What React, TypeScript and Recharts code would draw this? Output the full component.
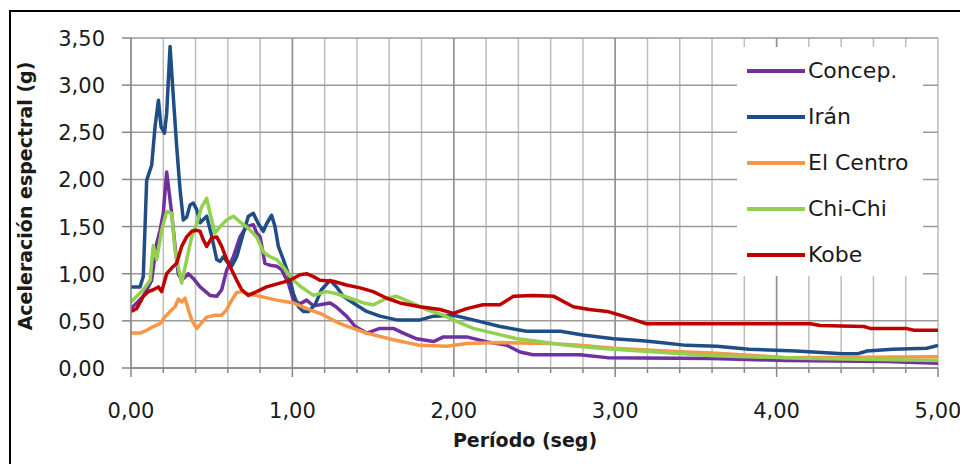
import React from 'react';
import { LineChart, Line, XAxis, YAxis, CartesianGrid, ReferenceLine } from 'recharts';

// ---- Data ----
const concepT = [0, 0.076, 0.128, 0.159, 0.18, 0.2, 0.221, 0.252, 0.273, 0.293, 0.314, 0.355, 0.386, 0.428, 0.49, 0.531, 0.562, 0.593, 0.634, 0.675, 0.717, 0.758, 0.779, 0.8, 0.83, 0.861, 0.903, 0.934, 0.975, 1.006, 1.047, 1.088, 1.13, 1.17, 1.233, 1.27, 1.335, 1.39, 1.46, 1.543, 1.625, 1.687, 1.77, 1.874, 1.936, 2.08, 2.2, 2.33, 2.41, 2.49, 2.78, 2.95, 3.6, 4.06, 4.68, 5.0];
const concepA = [0.63, 0.76, 0.93, 1.32, 1.46, 1.64, 2.08, 1.64, 1.29, 1.0, 0.93, 1.0, 0.95, 0.86, 0.77, 0.76, 0.83, 1.04, 1.18, 1.39, 1.5, 1.52, 1.43, 1.39, 1.11, 1.09, 1.08, 1.04, 0.9, 0.72, 0.68, 0.72, 0.66, 0.67, 0.69, 0.65, 0.55, 0.44, 0.37, 0.42, 0.42, 0.37, 0.31, 0.28, 0.33, 0.33, 0.28, 0.24, 0.17, 0.14, 0.14, 0.11, 0.1, 0.08, 0.07, 0.05];

const iranT = [0, 0.056, 0.076, 0.087, 0.097, 0.128, 0.149, 0.17, 0.186, 0.207, 0.221, 0.242, 0.262, 0.283, 0.304, 0.324, 0.345, 0.366, 0.386, 0.407, 0.428, 0.469, 0.5, 0.531, 0.552, 0.572, 0.603, 0.624, 0.655, 0.696, 0.727, 0.758, 0.789, 0.82, 0.84, 0.871, 0.892, 0.913, 0.944, 0.975, 1.006, 1.037, 1.068, 1.099, 1.14, 1.18, 1.233, 1.274, 1.315, 1.377, 1.46, 1.543, 1.646, 1.79, 1.874, 1.997, 2.12, 2.286, 2.45, 2.66, 2.8, 2.99, 3.17, 3.28, 3.44, 3.63, 3.83, 4.12, 4.41, 4.5, 4.56, 4.72, 4.93, 5.0];
const iranA = [0.86, 0.86, 0.97, 1.5, 1.99, 2.15, 2.56, 2.84, 2.56, 2.49, 2.7, 3.41, 2.88, 2.35, 1.89, 1.57, 1.6, 1.73, 1.75, 1.68, 1.54, 1.61, 1.4, 1.15, 1.13, 1.18, 1.11, 1.08, 1.18, 1.43, 1.61, 1.64, 1.53, 1.45, 1.53, 1.62, 1.5, 1.29, 1.15, 1.0, 0.79, 0.65, 0.6, 0.6, 0.67, 0.83, 0.93, 0.86, 0.76, 0.69, 0.6, 0.55, 0.51, 0.51, 0.55, 0.56, 0.51, 0.44, 0.39, 0.39, 0.35, 0.31, 0.29, 0.27, 0.24, 0.23, 0.2, 0.18, 0.15, 0.15, 0.18, 0.2, 0.21, 0.24];

const centroT = [0, 0.056, 0.097, 0.138, 0.18, 0.21, 0.242, 0.273, 0.293, 0.314, 0.335, 0.355, 0.376, 0.407, 0.428, 0.469, 0.52, 0.562, 0.593, 0.624, 0.655, 0.686, 0.717, 0.8, 0.903, 1.006, 1.088, 1.17, 1.295, 1.46, 1.625, 1.79, 1.956, 2.08, 2.286, 2.6, 2.78, 2.99, 3.19, 3.44, 3.6, 4.06, 5.0];
const centroA = [0.37, 0.37, 0.4, 0.44, 0.47, 0.54, 0.6, 0.65, 0.73, 0.7, 0.74, 0.62, 0.51, 0.42, 0.46, 0.54, 0.56, 0.56, 0.62, 0.72, 0.8, 0.81, 0.79, 0.76, 0.72, 0.69, 0.63, 0.58, 0.47, 0.37, 0.3, 0.24, 0.23, 0.26, 0.27, 0.26, 0.24, 0.21, 0.19, 0.17, 0.16, 0.11, 0.12];

const chichiT = [0, 0.076, 0.118, 0.138, 0.159, 0.19, 0.221, 0.252, 0.273, 0.293, 0.314, 0.345, 0.376, 0.407, 0.438, 0.469, 0.49, 0.52, 0.552, 0.593, 0.634, 0.675, 0.727, 0.779, 0.82, 0.861, 0.903, 0.944, 0.995, 1.047, 1.13, 1.21, 1.27, 1.357, 1.44, 1.5, 1.585, 1.646, 1.73, 1.83, 1.935, 1.997, 2.12, 2.245, 2.39, 2.53, 2.7, 2.905, 2.99, 3.61, 4.23, 5.0];
const chichiA = [0.7, 0.83, 0.93, 1.3, 1.15, 1.46, 1.66, 1.64, 1.25, 1.07, 0.9, 1.15, 1.39, 1.53, 1.71, 1.8, 1.64, 1.43, 1.5, 1.57, 1.61, 1.55, 1.48, 1.39, 1.23, 1.18, 1.15, 1.07, 0.95, 0.87, 0.77, 0.81, 0.79, 0.74, 0.69, 0.67, 0.74, 0.76, 0.7, 0.62, 0.56, 0.51, 0.42, 0.37, 0.31, 0.28, 0.24, 0.21, 0.2, 0.13, 0.1, 0.08];

const kobeT = [0, 0.035, 0.076, 0.107, 0.138, 0.17, 0.19, 0.221, 0.252, 0.283, 0.314, 0.345, 0.376, 0.407, 0.428, 0.448, 0.469, 0.5, 0.531, 0.562, 0.593, 0.624, 0.655, 0.686, 0.727, 0.779, 0.84, 0.923, 0.985, 1.047, 1.088, 1.13, 1.17, 1.253, 1.335, 1.42, 1.5, 1.585, 1.667, 1.79, 1.915, 1.997, 2.08, 2.18, 2.286, 2.37, 2.49, 2.62, 2.74, 2.84, 2.95, 3.05, 3.19, 4.21, 4.27, 4.54, 4.58, 4.8, 4.85, 5.0];
const kobeA = [0.6, 0.63, 0.76, 0.81, 0.83, 0.86, 0.81, 1.0, 1.06, 1.11, 1.29, 1.39, 1.45, 1.46, 1.45, 1.36, 1.29, 1.38, 1.39, 1.29, 1.15, 1.04, 0.93, 0.83, 0.77, 0.81, 0.86, 0.9, 0.93, 0.99, 1.0, 0.97, 0.93, 0.92, 0.88, 0.85, 0.81, 0.74, 0.69, 0.65, 0.62, 0.58, 0.63, 0.67, 0.67, 0.76, 0.77, 0.76, 0.65, 0.62, 0.6, 0.55, 0.47, 0.47, 0.45, 0.44, 0.42, 0.42, 0.4, 0.4];

const seriesNames = ['Concep.', 'Irán', 'El Centro', 'Chi-Chi', 'Kobe'];
const seriesColors = ['#7030A0', '#1F4E86', '#F79646', '#92D050', '#C00000'];

const xTicks = [0, 0.2, 0.4, 0.6, 0.8, 1, 1.2, 1.4, 1.6, 1.8, 2, 2.2, 2.4, 2.6, 2.8, 3, 3.2, 3.4, 3.6, 3.8, 4, 4.2, 4.4, 4.6, 4.8, 5];
const xMajor = [1, 2, 3, 4];
const yTicks = [0, 0.5, 1, 1.5, 2, 2.5, 3, 3.5];

const xTitle = 'Período (seg)';
const yTitle = 'Aceleración espectral (g)';

const toPts = (t: number[], a: number[]) => t.map((v, i) => ({ t: v, a: a[i] }));
const seriesData = [
  toPts(concepT, concepA),
  toPts(iranT, iranA),
  toPts(centroT, centroA),
  toPts(chichiT, chichiA),
  toPts(kobeT, kobeA),
];

const FONT = '"DejaVu Sans", sans-serif';
const fmt = (v: number) => v.toFixed(2).replace('.', ',');

const XTick = (props: any) => {
  const { x, y, payload } = props;
  const v = payload.value;
  const major = Math.abs(v - Math.round(v)) < 1e-6;
  return (
    <g>
      <line x1={x} x2={x} y1={y} y2={y + (major ? 9 : 5)} stroke="#868686" strokeWidth={1.5} />
      {major && (
        <text x={x} y={y + 50} textAnchor="middle" fontFamily={FONT} fontSize={21} fill="#1a1a1a">
          {fmt(v)}
        </text>
      )}
    </g>
  );
};

const YTick = (props: any) => {
  const { x, y, payload } = props;
  return (
    <g>
      <line x1={x - 9} x2={x} y1={y} y2={y} stroke="#868686" strokeWidth={1.5} />
      <text x={x - 26} y={y + 8} textAnchor="end" fontFamily={FONT} fontSize={21} fill="#1a1a1a">
        {fmt(payload.value)}
      </text>
    </g>
  );
};

const LegendBox = () => (
  <div style={{ position: 'absolute', left: 729, top: 39, width: 186, height: 229, background: '#fff' }}>
    {seriesNames.map((n, i) => (
      <div key={n} style={{ position: 'absolute', left: 0, top: 24 + i * 46 - 14, height: 28, display: 'flex', alignItems: 'center', whiteSpace: 'nowrap' }}>
        <div style={{ marginLeft: 10, width: 58, height: 3.5, background: seriesColors[i] }} />
        <span style={{ marginLeft: 3, fontFamily: FONT, fontSize: 22, color: '#1a1a1a', lineHeight: '28px' }}>{n}</span>
      </div>
    ))}
  </div>
);

export default function App() {
  return (
    <div style={{ position: 'relative', width: 960, height: 456, overflow: 'hidden', background: '#fff' }}>
      <LineChart width={960} height={456} margin={{ top: 30, right: 30, bottom: 0, left: 0 }}>
        <CartesianGrid horizontal={false} vertical stroke="#bdbdbd" strokeWidth={1.5} />
        <CartesianGrid horizontal vertical={false} stroke="#9a9a9a" strokeWidth={1.5} />
        {xMajor.map((v) => (
          <ReferenceLine key={v} x={v} stroke="#8f8f8f" strokeWidth={1.5} ifOverflow="hidden" />
        ))}
        <XAxis
          type="number"
          dataKey="t"
          domain={[0, 5]}
          ticks={xTicks}
          interval={0}
          height={96}
          stroke="#868686"
          strokeWidth={1.5}
          tickLine={false}
          tickSize={0}
          tickMargin={0}
          tick={<XTick />}
          allowDataOverflow
        />
        <YAxis
          type="number"
          domain={[0, 3.5]}
          ticks={yTicks}
          interval={0}
          width={123}
          stroke="#868686"
          strokeWidth={1.5}
          tickLine={false}
          tickSize={0}
          tickMargin={0}
          tick={<YTick />}
          allowDataOverflow
        />
        {seriesData.map((d, i) => (
          <Line
            key={seriesNames[i]}
            data={d}
            dataKey="a"
            name={seriesNames[i]}
            type="linear"
            stroke={seriesColors[i]}
            strokeWidth={3.5}
            strokeLinejoin="round"
            dot={false}
            activeDot={false}
            isAnimationActive={false}
          />
        ))}
        <text x={17} y={188} transform="rotate(-90 17 188)" textAnchor="middle" dominantBaseline="central" fontFamily={FONT} fontSize={19} fontWeight="bold" fill="#1a1a1a">
          {yTitle}
        </text>
        <text x={517} y={432} textAnchor="middle" dominantBaseline="central" fontFamily={FONT} fontSize={19} fontWeight="bold" fill="#1a1a1a">
          {xTitle}
        </text>
      </LineChart>
      <LegendBox />
      <div style={{ position: 'absolute', left: 1, top: 2, width: 1200, height: 1200, borderLeft: '2px solid #000', borderTop: '2px solid #000', boxSizing: 'border-box', pointerEvents: 'none' }} />
    </div>
  );
}
